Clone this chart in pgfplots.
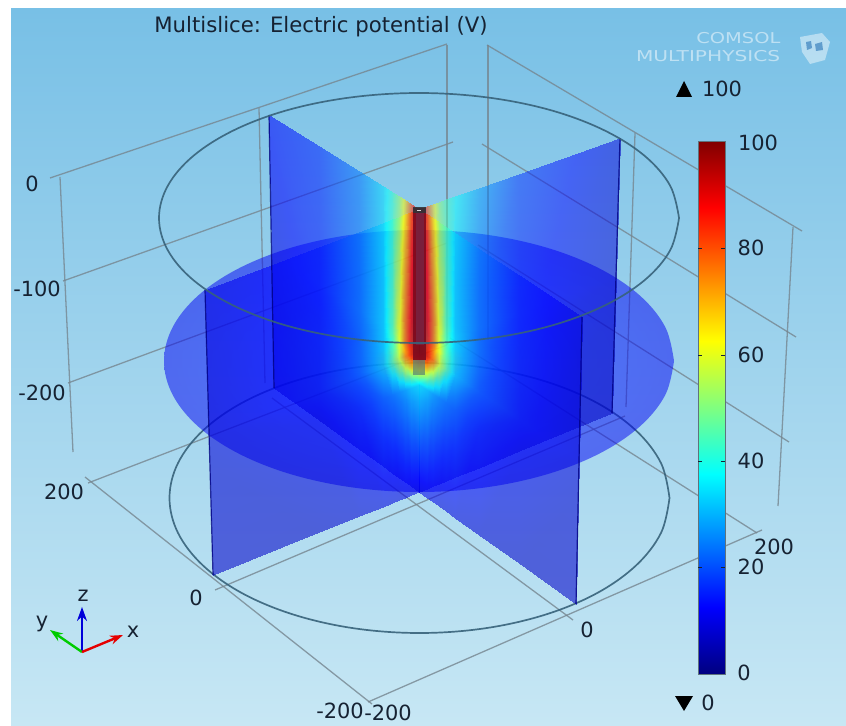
\documentclass[border=0pt]{standalone}
\usepackage{fontspec}
\setmainfont{DejaVu Sans}
\usepackage{pgfplots}
\pgfplotsset{compat=1.18}
\usetikzlibrary{arrows.meta}
\definecolor{sky1}{RGB}{120,192,230}
\definecolor{sky2}{RGB}{199,231,244}
\definecolor{gridc}{RGB}{118,134,144}
\definecolor{ringc}{RGB}{55,98,122}
\definecolor{txt}{RGB}{22,34,50}
\pgfdeclareradialshading{discfield}{\pgfpoint{0bp}{0bp}}{%
 rgb(0bp)=(.6,0,0);rgb(1.2bp)=(1,0,0);rgb(2.6bp)=(1,1,0);rgb(4.4bp)=(0,1,1);rgb(7.5bp)=(0,.38,1);rgb(15bp)=(0,.08,1);rgb(25bp)=(0,0,.95);rgb(50bp)=(0,0,.95)}
\pgfplotsset{
 colormap={jetc}{rgb255(0)=(0,0,128); rgb255(125)=(0,0,255); rgb255(375)=(0,255,255); rgb255(625)=(255,255,0); rgb255(875)=(255,0,0); rgb255(1000)=(128,0,0)},
 slice/.style={surf,shader=interp,colormap name=jetc,mesh/rows=4,mesh/cols=9,point meta=\thisrow{v},opacity=0.56},
 gridl/.style={color=gridc,line width=1.3pt,opacity=0.8},
 ring/.style={color=ringc,line width=1.7pt,smooth,tension=0.6,opacity=0.9},
 planeedge/.style={color=blue!50!black,line width=1.2pt,opacity=0.8}
}
\newcommand{\lab}[3]{\node[text=txt,font=\fontsize{21}{24}\selectfont] at (axis cs:#1,#2) {#3};}
\begin{document}
\begin{tikzpicture}
\begin{axis}[width=846bp,height=726bp,scale only axis,xmin=0,xmax=846,ymin=0,ymax=726,y dir=reverse,hide axis,point meta min=0,point meta max=100,clip=true]
\addplot[fill=white,draw=none] coordinates {(0,0)(846,0)(846,726)(0,726)} -- cycle;
\addplot[top color=sky1,bottom color=sky2,draw=none] coordinates {(11,9)(846,9)(846,726)(11,726)} -- cycle;
% box grid
\addplot[gridl] coordinates {(50,178)(447,44)};
\addplot[gridl] coordinates {(63,281)(453,142)};
\addplot[gridl] coordinates {(68,383)(447,243)};
\addplot[gridl] coordinates {(88,483)(447,345)};
\addplot[gridl] coordinates {(215,590)(625,416)};
\addplot[gridl] coordinates {(368,702)(762,530)};
\addplot[gridl] coordinates {(85,477)(372,704)};
\addplot[gridl] coordinates {(573,620)(272,398)};
\addplot[gridl] coordinates {(757,533)(450,338)};
\addplot[gridl] coordinates {(487,45)(802,231)};
\addplot[gridl] coordinates {(482,144)(796,337)};
\addplot[gridl] coordinates {(478,245)(789,442)};
\addplot[gridl] coordinates {(60,177)(73,452)};
\addplot[gridl] coordinates {(259,108)(265,383)};
\addplot[gridl] coordinates {(635,133)(626,407)};
\addplot[gridl] coordinates {(793,227)(778,506)};
\addplot[gridl] coordinates {(447,45)(447,345)};
\addplot[gridl] coordinates {(488,45)(488,340)};
% lower ring, below the disc
\addplot[ring] coordinates {(669.5,498)(661,532.9)(636,565.5)(596.3,593.5)(544.5,614.9)(484.2,628.4)(419.5,633)(354.8,628.4)(294.5,614.9)(242.7,593.5)(203,565.5)(178,532.9)(169.5,498)(178,463.1)(203,430.5)(242.7,402.5)(294.5,381.1)(354.8,367.6)(419.5,363)(484.2,367.6)(544.5,381.1)(596.3,402.5)(636,430.5)(661,463.1)(669.5,498)};
% horizontal slice
\addplot[shading=discfield,draw=none,opacity=0.5,smooth,tension=0.6] coordinates {(674,361)(665.3,394.9)(639.8,426.5)(599.3,453.6)(546.5,474.4)(485,487.5)(419,492)(353,487.5)(291.5,474.4)(238.7,453.6)(198.2,426.5)(172.7,394.9)(164,361)(172.7,327.1)(198.2,295.5)(238.7,268.4)(291.5,247.6)(353,234.5)(419,230)(485,234.5)(546.5,247.6)(599.3,268.4)(639.8,295.5)(665.3,327.1)(674,361)};
% back slices
\addplot[slice] table {
x y v
419 209 100
411 204 82
405 200 66
399 196.5 52
392 192 42
383 186.5 34
359 171.4 24
319 146.3 16
269 115 13
419 350.5 100
411 345 92
405 341 80
399 337 63
392 332.3 46
383 326.3 32
359 310.2 22
319 283.3 14
271.5 251.5 10
419 384.5 33
411 379 31
405 374.8 28
399 370.8 26
392 366 24
383 360 22
359 343.5 16
319 316.2 11
272 284.3 8
419 492 10
411 486.3 10
405 482 10
399 477.7 9
392 472.6 9
383 466.2 9
359 449 8
319 420.3 7
274 388 7
};
\addplot[slice,opacity=0.5] table {
x y v
419 209 100
427 206.2 82
433 204 66
439 202 52
446 199.5 44
455 196.3 38
479 187.8 28
519 173.7 17
620 138 9
419 350.5 100
427 347.5 92
433 345.2 80
439 342.9 63
446 340.3 46
455 336.8 32
479 327.7 22
519 312.4 14
616 275.5 8
419 384.5 33
427 381.3 31
433 379 28
439 376.7 26
446 374 24
455 370.5 22
479 361.2 16
519 345.7 11
615 308.5 7
419 492 10
427 488.7 10
433 486.3 10
439 483.8 9
446 481 9
455 477.3 9
479 467.5 8
519 451.1 7
612 413 6
};
% front slices
\addplot[slice] table {
x y v
419 209 100
427 214.3 82
433 218.3 66
439 222.3 52
446 226.9 44
455 232.9 34
479 248.8 24
519 275.3 15
582 317 10
419 350.5 100
427 356 92
433 360.2 80
439 364.3 63
446 369.1 46
455 375.3 32
479 391.8 22
519 419.3 14
579 460.5 9
419 384.5 33
427 390 31
433 394.2 28
439 398.4 26
446 403.2 24
455 409.5 22
479 426.1 16
519 453.9 11
578 494.9 8
419 492 10
427 497.7 10
433 502 10
439 506.3 9
446 511.3 9
455 517.7 9
479 534.8 8
519 563.3 7
576 604 7
};
\addplot[slice] table {
x y v
419 209 100
411 212 82
405 214.3 66
399 216.6 52
392 219.2 42
383 222.6 34
359 231.7 24
319 246.9 15
205 290 10
419 350.5 100
411 353.6 92
405 356 80
399 358.4 63
392 361 46
383 364.6 32
359 374 22
319 389.6 14
209 432.5 9
419 384.5 33
411 387.6 31
405 390 28
399 392.4 26
392 395.1 24
383 398.6 22
359 408.1 16
319 423.8 11
210 466.7 8
419 492 10
411 495.2 10
405 497.6 10
399 500.1 9
392 502.9 9
383 506.5 9
359 516.2 8
319 532.3 7
213 575 7
};
% slice edges
\addplot[planeedge] coordinates {(269,115)(274,388)};
\addplot[planeedge] coordinates {(620,138)(612,413)};
\addplot[planeedge] coordinates {(205,290)(213,575)};
\addplot[planeedge] coordinates {(582,317)(576,604)};
% electrode
\addplot[fill={rgb,255:red,125;green,10;blue,30},draw=none,opacity=0.9] coordinates {(412.5,208)(426,208)(426,360)(412.5,360)} -- cycle;
\addplot[fill={rgb,255:red,120;green,35;blue,65},draw=none,opacity=0.85] coordinates {(415.5,212)(423.5,212)(423.5,345)(415.5,345)} -- cycle;
\addplot[fill={rgb,255:red,85;green,130;blue,120},draw=none,opacity=0.7] coordinates {(413,360)(425,360)(425,375)(413,375)} -- cycle;
\addplot[fill={rgb,255:red,50;green,50;blue,55},draw=none,opacity=0.9] coordinates {(413,207)(426,207)(426,213)(413,213)} -- cycle;
\addplot[fill=white,draw=none,opacity=0.8] coordinates {(417,209.5)(421,209.5)(421,211)(417,211)} -- cycle;
% upper ring
\addplot[ring] coordinates {(679,218)(670.1,250.4)(644.2,280.5)(602.8,306.4)(549,326.3)(486.3,338.7)(419,343)(351.7,338.7)(289,326.3)(235.2,306.4)(193.8,280.5)(167.9,250.4)(159,218)(167.9,185.6)(193.8,155.5)(235.2,129.6)(289,109.7)(351.7,97.3)(419,93)(486.3,97.3)(549,109.7)(602.8,129.6)(644.2,155.5)(670.1,185.6)(679,218)};
% colour bar
\addplot[surf,shader=interp,colormap name=jetc,mesh/rows=2,mesh/cols=2,point meta=\thisrow{v}] table {
x y v
698 141 100
725 141 100
698 674 0
725 674 0
};
\addplot[draw={rgb,255:red,95;green,115;blue,125},line width=0.9pt] coordinates {(698,141)(725,141)(725,674)(698,674)} -- cycle;
\addplot[txt,line width=1pt] coordinates {(698,248)(702,248)};
\addplot[txt,line width=1pt] coordinates {(721,248)(725,248)};
\addplot[txt,line width=1pt] coordinates {(698,355)(702,355)};
\addplot[txt,line width=1pt] coordinates {(721,355)(725,355)};
\addplot[txt,line width=1pt] coordinates {(698,461)(702,461)};
\addplot[txt,line width=1pt] coordinates {(721,461)(725,461)};
\addplot[txt,line width=1pt] coordinates {(698,567)(702,567)};
\addplot[txt,line width=1pt] coordinates {(721,567)(725,567)};
% min and max markers
\addplot[fill=black,draw=none] coordinates {(676,97)(692,97)(684,81)} -- cycle;
\addplot[fill=black,draw=none] coordinates {(675,696)(693,696)(684,711)} -- cycle;
% triad
\addplot[color=blue!85!black,line width=2.4pt,-{Stealth[length=14pt,width=10pt]}] coordinates {(82,652)(82,607)};
\addplot[color=green!80!black,line width=2.4pt,-{Stealth[length=13pt,width=9pt]}] coordinates {(82,652)(50,630)};
\addplot[color=red!90!black,line width=2.4pt,-{Stealth[length=13pt,width=9pt]}] coordinates {(82,652)(123,635)};
% logo
\addplot[fill=white,draw=none,opacity=0.45] coordinates {(800,37)(822,33)(830,42)(825,60)(810,64)(802,52)} -- cycle;
\addplot[fill={rgb,255:red,60;green,130;blue,190},draw=none,opacity=0.7] coordinates {(806,42)(811,41)(812,48)(807,50)} -- cycle;
\addplot[fill={rgb,255:red,60;green,130;blue,190},draw=none,opacity=0.7] coordinates {(815,44)(822,42)(823,50)(816,51)} -- cycle;
% texts
\node[text=txt,font=\fontsize{21.3}{24}\selectfont] at (axis cs:321,27) {Multislice: Electric potential (V)};
\node[text=white,opacity=0.5,font=\fontsize{15}{17}\selectfont,xscale=1.3,anchor=east] at (axis cs:785,38) {COMSOL};
\node[text=white,opacity=0.5,font=\fontsize{15}{17}\selectfont,xscale=1.35,anchor=east] at (axis cs:785,56) {MULTIPHYSICS};
\lab{32}{184}{0}
\lab{37}{289}{-100}
\lab{42}{393}{-200}
\lab{64}{492}{200}
\lab{196}{598}{0}
\lab{340}{711}{-200}
\lab{388}{713}{-200}
\lab{587}{630}{0}
\lab{774}{547}{200}
\lab{758}{143}{100}
\lab{751}{248}{80}
\lab{751}{355}{60}
\lab{751}{461}{40}
\lab{751}{567}{20}
\lab{744}{673}{0}
\lab{722}{89}{100}
\lab{708}{703}{0}
\lab{83}{596}{z}
\lab{42}{624}{y}
\lab{133}{632}{x}
\end{axis}
\end{tikzpicture}
\end{document}
